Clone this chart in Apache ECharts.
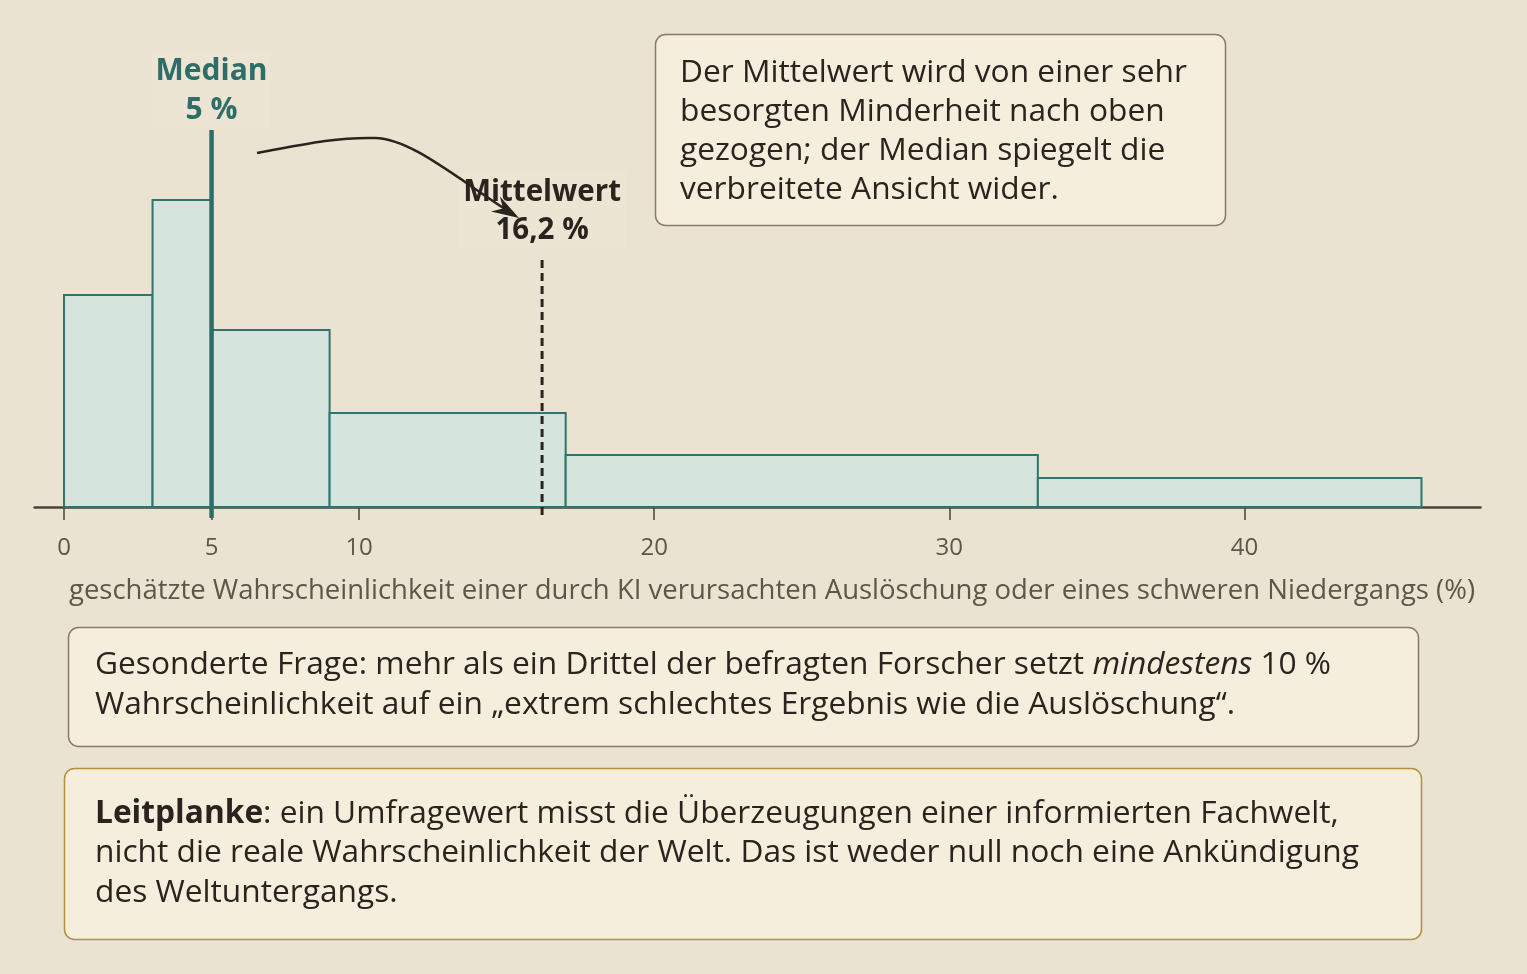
<!DOCTYPE html>
<html>
<head>
<meta charset="utf-8">
<script src="https://cdn.jsdelivr.net/npm/echarts@6/dist/echarts.min.js"></script>
<style>
html,body{margin:0;padding:0;background:#ebe3d2;}
#chart{width:1527px;height:974px;}
</style>
</head>
<body>
<div id="chart"></div>
<script>
// ---- data ----
const binEdges = [0, 3, 5, 9, 17, 33, 46];
const binDensity = [2.12, 3.07, 1.77, 0.94, 0.52, 0.29];
const tickValues = [0, 5, 10, 20, 30, 40];
const medianValue = 5;
const meanValue = 16.2;
const medianLabel = ['Median', '5 %'];
const meanLabel = ['Mittelwert', '16,2 %'];
const xAxisTitle = 'geschätzte Wahrscheinlichkeit einer durch KI verursachten Auslöschung oder eines schweren Niedergangs (%)';
const noteTop = 'Der Mittelwert wird von einer sehr\nbesorgten Minderheit nach oben\ngezogen; der Median spiegelt die\nverbreitete Ansicht wider.';
const noteMid = 'Gesonderte Frage: mehr als ein Drittel der befragten Forscher setzt {i|mindestens} 10 %\nWahrscheinlichkeit auf ein „extrem schlechtes Ergebnis wie die Auslöschung“.';
const noteBot = '{b|Leitplanke}: ein Umfragewert misst die Überzeugungen einer informierten Fachwelt,\nnicht die reale Wahrscheinlichkeit der Welt. Das ist weder null noch eine Ankündigung\ndes Weltuntergangs.';

const FONT = '"Open Sans", Lato, sans-serif';
const TEAL = '#2e6e68';
const DARK = '#2a241f';
const AXIS = '#4a4438';
const LABEL = '#5e5648';
const NOTE_SIZE = 31.7;

const bins = binDensity.map((d, i) => [binEdges[i], binEdges[i + 1], d]);

const chart = echarts.init(document.getElementById('chart'), null, {renderer: 'canvas'});

const option = {
  backgroundColor: '#ebe3d2',
  animation: false,
  grid: {left: 34.5, right: 46.5, top: 100, bottom: 467, containLabel: false},
  xAxis: {
    type: 'value', min: -1, max: 48,
    axisLine: {show: true, lineStyle: {color: AXIS, width: 2.5}},
    axisTick: {show: true, customValues: tickValues, length: 13, lineStyle: {color: AXIS, width: 1.5}},
    axisLabel: {customValues: tickValues, color: LABEL, fontFamily: FONT, fontSize: 24, margin: 29},
    splitLine: {show: false},
    name: xAxisTitle,
    nameLocation: 'middle',
    nameGap: 70,
    nameTextStyle: {color: LABEL, fontFamily: FONT, fontSize: 27.5, padding: [0, 0, 0, 29]}
  },
  yAxis: {type: 'value', min: 0, max: 4.07, show: false},
  series: [
    {
      type: 'custom',
      data: bins,
      clip: false,
      renderItem: function (params, api) {
        const p0 = api.coord([api.value(0), api.value(2)]);
        const p1 = api.coord([api.value(1), 0]);
        return {
          type: 'rect',
          shape: {x: p0[0], y: p0[1], width: p1[0] - p0[0], height: p1[1] - p0[1]},
          style: {fill: '#d5e4dd', stroke: '#30746e', lineWidth: 2}
        };
      },
      z: 2
    },
    {
      type: 'custom',
      data: [[medianValue, 3.77, -0.11]],
      clip: false,
      renderItem: function (params, api) {
        const a = api.coord([api.value(0), api.value(1)]);
        const b = api.coord([api.value(0), api.value(2)]);
        return {
          type: 'group',
          children: [
            {type: 'line', shape: {x1: a[0], y1: a[1], x2: b[0], y2: b[1]}, style: {stroke: TEAL, lineWidth: 4.5}},
            {type: 'rect', shape: {x: a[0] - 60, y: 52, width: 120, height: 76}, style: {fill: 'rgba(240,234,220,0.3)'}, z2: -1},
            {type: 'text', style: {text: medianLabel[0], x: a[0], y: 71, align: 'center', verticalAlign: 'middle', fill: TEAL, font: 'bold 30px ' + FONT}},
            {type: 'text', style: {text: medianLabel[1], x: a[0], y: 110, align: 'center', verticalAlign: 'middle', fill: TEAL, font: 'bold 30px ' + FONT}}
          ]
        };
      },
      z: 5
    },
    {
      type: 'custom',
      data: [[meanValue, 2.47, -0.13]],
      clip: false,
      renderItem: function (params, api) {
        const a = api.coord([api.value(0), api.value(1)]);
        const b = api.coord([api.value(0), api.value(2)]);
        return {
          type: 'group',
          children: [
            {type: 'line', shape: {x1: a[0], y1: a[1], x2: b[0], y2: b[1]}, style: {stroke: DARK, lineWidth: 3, lineDash: [8, 5]}},
            {type: 'rect', shape: {x: a[0] - 85, y: 173, width: 170, height: 76}, style: {fill: 'rgba(240,234,220,0.3)'}, z2: -1},
            {type: 'text', style: {text: meanLabel[0], x: a[0], y: 193, align: 'center', verticalAlign: 'middle', fill: DARK, font: 'bold 29.5px ' + FONT}},
            {type: 'text', style: {text: meanLabel[1], x: a[0], y: 231, align: 'center', verticalAlign: 'middle', fill: DARK, font: 'bold 29.5px ' + FONT}}
          ]
        };
      },
      z: 5
    }
  ],
  graphic: [
    // arrow
    {type: 'bezierCurve', shape: {x1: 257, y1: 153, cpx1: 310, cpy1: 143, cpx2: 340, cpy2: 137, x2: 375, y2: 138},
      style: {stroke: DARK, lineWidth: 2.5, fill: null}, z: 20},
    {type: 'bezierCurve', shape: {x1: 375, y1: 138, cpx1: 410, cpy1: 139, cpx2: 450, cpy2: 173, x2: 505, y2: 209},
      style: {stroke: DARK, lineWidth: 2.5, fill: null}, z: 20},
    {type: 'polygon', shape: {points: [[519, 218], [491, 211.5], [503, 208.5], [500, 196.5]]}, style: {fill: DARK}, z: 20},
    // top note
    {type: 'rect', shape: {x: 655.5, y: 34.5, width: 570, height: 191, r: 10},
      style: {fill: '#f5eedd', stroke: '#8c7b62', lineWidth: 1.5}, z: 10},
    {type: 'text', style: {text: noteTop, x: 680, y: 53, fill: DARK, font: NOTE_SIZE + 'px ' + FONT, lineHeight: 39}, z: 11},
    // middle note
    {type: 'rect', shape: {x: 68.5, y: 627.5, width: 1350, height: 119, r: 10},
      style: {fill: '#f5eedd', stroke: '#8c7b62', lineWidth: 1.5}, z: 10},
    {type: 'text', style: {text: noteMid, x: 95, y: 645, fill: DARK, font: NOTE_SIZE + 'px ' + FONT, lineHeight: 40,
      rich: {i: {fontStyle: 'italic', fontSize: NOTE_SIZE, fontFamily: FONT, fill: DARK, lineHeight: 40}}}, z: 11},
    // bottom note
    {type: 'rect', shape: {x: 64.5, y: 768.5, width: 1357, height: 171, r: 10},
      style: {fill: '#f5eedd', stroke: '#b0913e', lineWidth: 1.5}, z: 10},
    {type: 'text', style: {text: noteBot, x: 95, y: 794, fill: DARK, font: NOTE_SIZE + 'px ' + FONT, lineHeight: 39.5,
      rich: {b: {fontWeight: 'bold', fontSize: NOTE_SIZE, fontFamily: FONT, fill: DARK, lineHeight: 39.5}}}, z: 11}
  ]
};
chart.setOption(option);
</script>
</body>
</html>
